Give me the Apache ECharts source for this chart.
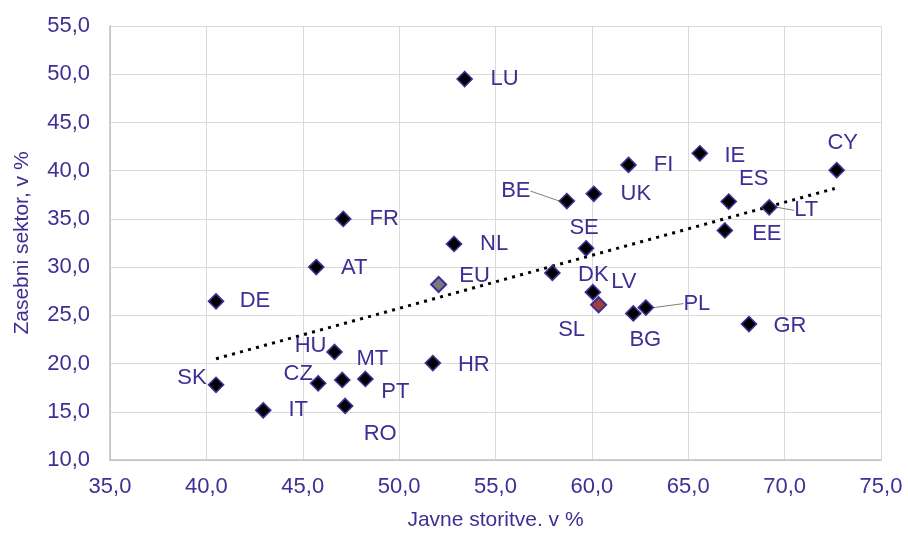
<!DOCTYPE html>
<html>
<head>
<meta charset="utf-8">
<script src="https://cdn.jsdelivr.net/npm/echarts@6/dist/echarts.min.js"></script>
<style>html,body{margin:0;padding:0;background:#fff;}#c{width:908px;height:536px;}</style>
</head>
<body>
<div id="c"></div>
<script>
// ---- data ----
const countries = ['LU','FR','AT','NL','BE','UK','FI','IE','CY','ES','LT','EE','SE','DK','LV','SL','BG','PL','GR','DE','SK','IT','HU','CZ','MT','PT','RO','HR','EU'];
const publicServices = [53.4,47.1,45.7,52.85,58.7,60.1,61.9,65.6,72.7,67.1,69.2,66.9,59.7,57.95,60.05,60.35,62.15,62.8,68.15,40.5,40.5,42.95,46.65,45.8,47.05,48.25,47.2,51.75,52.05];
const privateSector = [49.5,35.0,30.0,32.4,36.85,37.6,40.6,41.8,40.05,36.8,36.2,33.8,31.95,29.4,27.4,26.1,25.2,25.8,24.1,26.45,17.8,15.15,21.2,17.95,18.3,18.4,15.6,20.05,28.2];
const trendX = [40.5, 72.6];
const trendY = [20.5, 38.15];
const xTicks = [35,40,45,50,55,60,65,70,75];
const yTicks = [10,15,20,25,30,35,40,45,50,55];

// ---- layout / style (kept apart from data) ----
const labelPlacement = {
  LU:[40,0], FR:[41,0], AT:[38,1], NL:[40,0], BE:[-51,-10], UK:[42,0], FI:[35,0], IE:[35,3],
  CY:[6,-27], ES:[25,-23], LT:[37,3], EE:[42,3], SE:[-2,-20], DK:[41,2], LV:[31,-10],
  SL:[-27,25], BG:[12,27], PL:[51,-4], GR:[41,2], DE:[39,0], SK:[-24,-7], IT:[35,0],
  HU:[-24,-6], CZ:[-20,-9], MT:[30,-21], PT:[30,13], RO:[35,28], HR:[41,2], EU:[36,-9]
};
const leaderLabels = ['BE','LT','PL'];
const specialFill = { EU:'#7a7a7a', SL:'#a0403a' };
const TXT = '#3d2f94';
const FONT = '"Liberation Sans", Arial, sans-serif';

const scatterData = countries.map((c, i) => {
  const item = { name: c, value: [publicServices[i], privateSector[i]] };
  if (specialFill[c]) item.itemStyle = { color: specialFill[c], borderWidth: 2 };
  if (leaderLabels.includes(c)) item.labelLine = { show: true, lineStyle: { color: '#7f7f7f', width: 1 } };
  return item;
});

const chart = echarts.init(document.getElementById('c'), null, { renderer: 'canvas' });
chart.setOption({
  animation: false,
  backgroundColor: '#ffffff',
  textStyle: { fontFamily: FONT },
  grid: { left: 110, right: 27, top: 26, bottom: 73, containLabel: false },
  xAxis: {
    type: 'value', min: xTicks[0], max: xTicks[xTicks.length-1], interval: 5,
    name: 'Javne storitve. v %', nameLocation: 'middle', nameGap: 50,
    nameTextStyle: { color: TXT, fontSize: 21, fontFamily: FONT },
    axisLine: { show: true, lineStyle: { color: '#bfbfbf', width: 1.5 } },
    axisTick: { show: false },
    axisLabel: { color: TXT, fontSize: 22, fontFamily: FONT, margin: 16,
      formatter: v => v.toFixed(1).replace('.', ',') },
    splitLine: { show: true, lineStyle: { color: '#d9d9d9', width: 1 } }
  },
  yAxis: {
    type: 'value', min: yTicks[0], max: yTicks[yTicks.length-1], interval: 5,
    name: 'Zasebni sektor, v %', nameLocation: 'middle', nameGap: 77, nameRotate: 90,
    nameTextStyle: { color: TXT, fontSize: 21, fontFamily: FONT },
    axisLine: { show: true, lineStyle: { color: '#bfbfbf', width: 1.5 } },
    axisTick: { show: false },
    axisLabel: { color: TXT, fontSize: 22, fontFamily: FONT, margin: 20,
      formatter: v => v.toFixed(1).replace('.', ',') },
    splitLine: { show: true, lineStyle: { color: '#d9d9d9', width: 1 } }
  },
  series: [
    {
      type: 'line',
      data: trendX.map((x, i) => [x, trendY[i]]),
      showSymbol: false, symbol: 'none',
      lineStyle: { color: '#000000', width: 3, type: [3, 5.3] },
      z: 3, silent: true
    },
    {
      type: 'scatter',
      data: scatterData,
      symbol: 'diamond', symbolSize: 15,
      itemStyle: { color: '#000000', borderColor: TXT, borderWidth: 1.6, opacity: 1 },
      label: {
        show: true, position: 'inside', formatter: p => p.name,
        color: TXT, fontSize: 22, fontFamily: FONT, opacity: 1
      },
      labelLayout: function (p) {
        const o = labelPlacement[countries[p.dataIndex]] || [0,0];
        return { dx: o[0], dy: o[1] };
      },
      z: 5
    }
  ]
});
</script>
</body>
</html>
